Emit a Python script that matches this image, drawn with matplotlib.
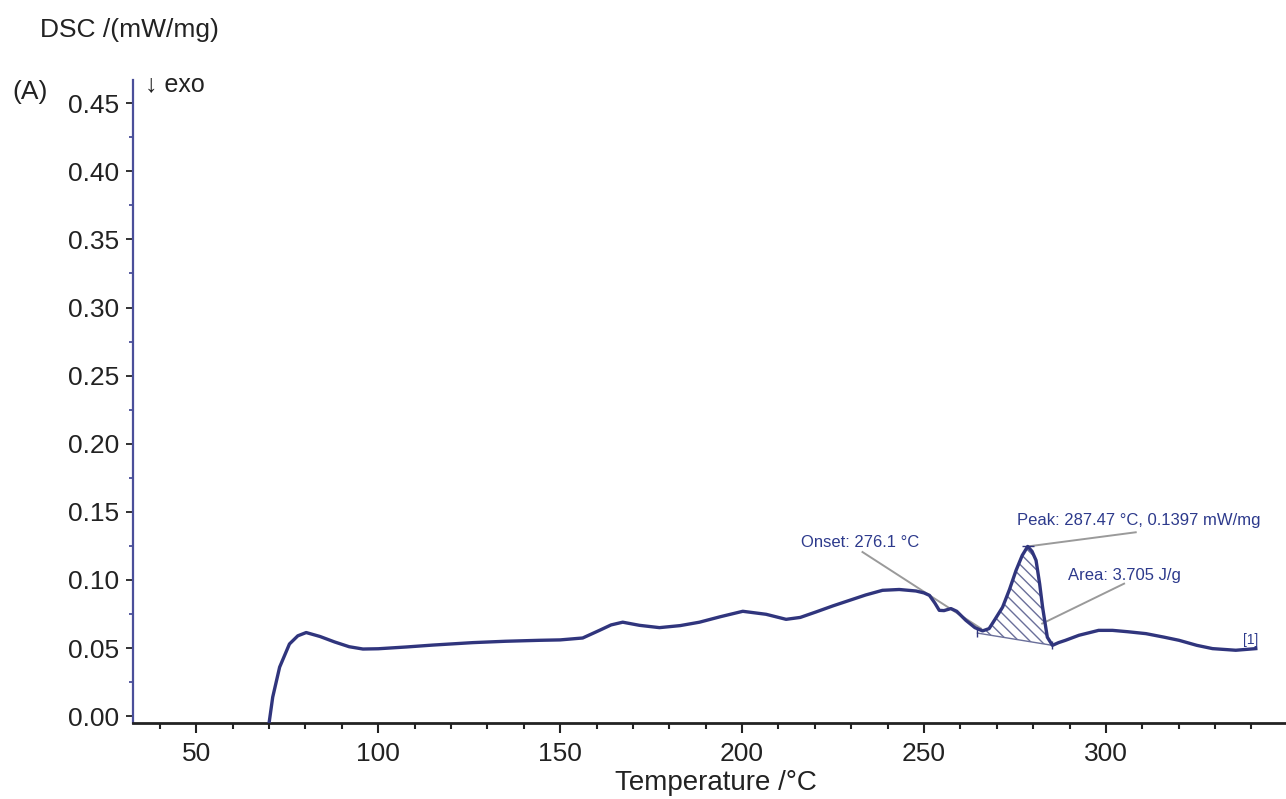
import numpy as np
import matplotlib
matplotlib.use("Agg")
import matplotlib.pyplot as plt
from matplotlib.ticker import MultipleLocator

plt.rcParams['font.family'] = ['Liberation Sans', 'DejaVu Sans']

# DSC curve (temperature in degC, signal in mW/mg)
temp = [70, 71, 72.9, 75.6, 77.9, 80.2, 84, 88, 92, 95.8, 100, 107.7, 115, 126,
        135, 144.3, 150, 156.2, 160.8, 164, 167.2, 171.8, 177.3, 183, 188.3, 194,
        200.2, 206.6, 212.1, 216, 220.3, 225, 229.5, 234, 238.6, 243.2, 247.8,
        250, 251.5, 253, 254.2, 255.5, 257.4, 259, 261.5, 264, 266.1, 267.9,
        269.5, 271.6, 273.5, 275.3, 277, 278.5, 279.7, 280.8, 281.8, 282.6,
        283.3, 283.9, 285.3, 287, 288.9, 292.6, 298, 301.8, 306, 311, 316,
        320.1, 325, 329.3, 335.7, 341.2]
dsc = [-0.005, 0.014, 0.036, 0.053, 0.059, 0.0614, 0.0585, 0.0545, 0.051, 0.0493,
       0.0495, 0.0508, 0.0522, 0.054, 0.055, 0.0557, 0.056, 0.0574, 0.063, 0.067,
       0.069, 0.0667, 0.065, 0.0665, 0.069, 0.073, 0.077, 0.0748, 0.0711, 0.0725,
       0.0765, 0.081, 0.085, 0.089, 0.0924, 0.093, 0.0919, 0.0905, 0.0887, 0.083,
       0.0777, 0.0775, 0.079, 0.077, 0.0704, 0.065, 0.0626, 0.0643, 0.071, 0.080,
       0.093, 0.107, 0.118, 0.1246, 0.121, 0.1144, 0.097, 0.080, 0.068, 0.058,
       0.052, 0.054, 0.0557, 0.0594, 0.063, 0.063, 0.062, 0.0606, 0.058, 0.0557,
       0.052, 0.0496, 0.0484, 0.0496]

# peak integration baseline
base_t = [264.7, 285.3]
base_v = [0.061, 0.052]
peak_t, peak_v = 278.5, 0.1246

xticks = [50, 100, 150, 200, 250, 300]
yticks = [0.00, 0.05, 0.10, 0.15, 0.20, 0.25, 0.30, 0.35, 0.40, 0.45]

navy = '#30357d'
txtcol = '#2d3a8c'
grey = '#9a9a9a'

fig = plt.figure(figsize=(12.86, 7.99), dpi=100)
ax = fig.add_axes([133/1286, 1-723/799, 1-133/1286, (723-80)/799])

ax.plot(temp, dsc, color=navy, lw=2.4, solid_joinstyle='round', zorder=3)

# hatched area between curve and baseline
t_arr = np.array(temp)
d_arr = np.array(dsc)
m = (t_arr >= 266) & (t_arr <= 285.3)
poly_x = list(t_arr[m]) + [base_t[0]]
poly_y = list(d_arr[m]) + [base_v[0]]
ax.fill(poly_x, poly_y, facecolor='none', edgecolor='#6a6f9a', hatch='\\\\\\',
        lw=0, zorder=2)
ax.plot(base_t, base_v, color='#6a6f9a', lw=1.0, zorder=2)
ax.plot(base_t, base_v, ls='none', marker='|', ms=6, color=navy, zorder=4)
ax.plot([peak_t], [peak_v], ls='none', marker='_', ms=8, color=navy, zorder=4)

# annotations
ax.plot([233.1, 265.7], [0.1205, 0.0643], color=grey, lw=1.4, zorder=1)
ax.text(216.2, 0.1278, 'Onset: 276.1 °C', color=txtcol, fontsize=12,
        ha='left', va='center')
ax.plot([peak_t, 308.2], [peak_v, 0.135], color=grey, lw=1.4, zorder=1)
ax.text(275.7, 0.1437, 'Peak: 287.47 °C, 0.1397 mW/mg', color=txtcol,
        fontsize=12, ha='left', va='center')
ax.plot([305, 282.5], [0.0973, 0.068], color=grey, lw=1.4, zorder=1)
ax.text(289.5, 0.1034, 'Area: 3.705 J/g', color=txtcol, fontsize=12,
        ha='left', va='center')
ax.text(339.7, 0.0557, '[1]', color=txtcol, fontsize=10, ha='center', va='center')

ax.set_xlim(32.6, 349.5)
ax.set_ylim(-0.005, 0.467)
ax.set_xticks(xticks)
ax.set_yticks(yticks)
ax.set_yticklabels([f'{v:.2f}' for v in yticks])
ax.xaxis.set_minor_locator(MultipleLocator(10))
ax.yaxis.set_minor_locator(MultipleLocator(0.025))

for s in ['top', 'right']:
    ax.spines[s].set_visible(False)
ax.spines['left'].set_color('#4a4f9a')
ax.spines['left'].set_linewidth(1.6)
ax.spines['bottom'].set_color('#222222')
ax.spines['bottom'].set_linewidth(2.0)

ax.tick_params(axis='x', which='major', direction='out', length=7, width=1.5,
               labelsize=19, pad=7, colors='#222222')
ax.tick_params(axis='x', which='minor', direction='out', length=4, width=1.5,
               colors='#222222')
ax.tick_params(axis='y', which='major', direction='out', length=5, width=1.3,
               labelsize=19, pad=5, colors='#222222')
ax.tick_params(axis='y', which='minor', direction='out', length=3, width=1.3,
               colors='#4a4f9a')

fig.text(40/1286, 1-30/799, 'DSC /(mW/mg)', fontsize=19, color='#222222',
         ha='left', va='center')
fig.text(12/1286, 1-92/799, '(A)', fontsize=19, color='#222222',
         ha='left', va='center')
fig.text(145/1286, 1-84/799, '↓ exo', fontsize=18, color='#222222',
         ha='left', va='center')
fig.text(716/1286, 1-783/799, 'Temperature /°C', fontsize=20, color='#222222',
         ha='center', va='center')

fig.savefig('out.png', dpi=100)
